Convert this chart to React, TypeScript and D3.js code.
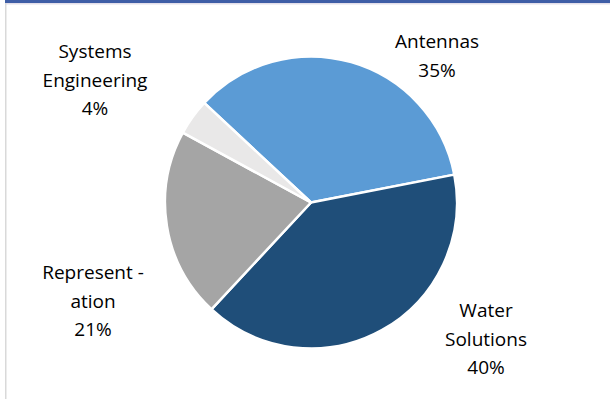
import React from "react";
import * as d3 from "d3";

const categories = ["Antennas", "Water Solutions", "Representation", "Systems Engineering"];
const values = [35, 40, 21, 4];
const colors = ["#5B9BD5", "#1F4E79", "#A5A5A5", "#E9E8E8"];
const labelLines = [
  ["Antennas", "35%"],
  ["Water", "Solutions", "40%"],
  ["Represent -", "ation", "21%"],
  ["Systems", "Engineering", "4%"],
];
// label anchor (center x, first baseline y) in px
const labelPos: [number, number][] = [
  [437, 48],
  [486, 317],
  [93, 279],
  [95, 58],
];

const W = 610;
const H = 399;
const cx = 311;
const cy = 202.5;
const R = 146;
const lineGap = 28.5;

export default function App() {
  const pie = d3
    .pie<number>()
    .sort(null)
    .startAngle((-47 * Math.PI) / 180)
    .endAngle((313 * Math.PI) / 180);
  const arcs = pie(values);
  const arc = d3.arc<d3.PieArcDatum<number>>().innerRadius(0).outerRadius(R);

  return (
    <svg
      width={W}
      height={H}
      style={{ position: "absolute", left: 0, top: 0, background: "#fff" }}
    >
      <rect x={5} y={0} width={W - 5} height={3} fill="#3F5EA6" />
      <rect x={5} y={3} width={W - 5} height={1.5} fill="#E3DFEA" />
      <rect x={5} y={3} width={1.5} height={H - 3} fill="#D9D9D9" />
      <g transform={`translate(${cx},${cy})`}>
        {arcs.map((a, i) => (
          <path
            key={categories[i]}
            d={arc(a) || ""}
            fill={colors[i]}
            stroke="#fff"
            strokeWidth={2.5}
            strokeLinejoin="round"
          />
        ))}
      </g>
      {labelLines.map((lines, i) => (
        <text
          key={categories[i]}
          fontFamily="'Open Sans', sans-serif"
          fontSize={19}
          fill="#000"
          textAnchor="middle"
        >
          {lines.map((ln, j) => (
            <tspan key={j} x={labelPos[i][0]} y={labelPos[i][1] + j * lineGap}>
              {ln}
            </tspan>
          ))}
        </text>
      ))}
    </svg>
  );
}
